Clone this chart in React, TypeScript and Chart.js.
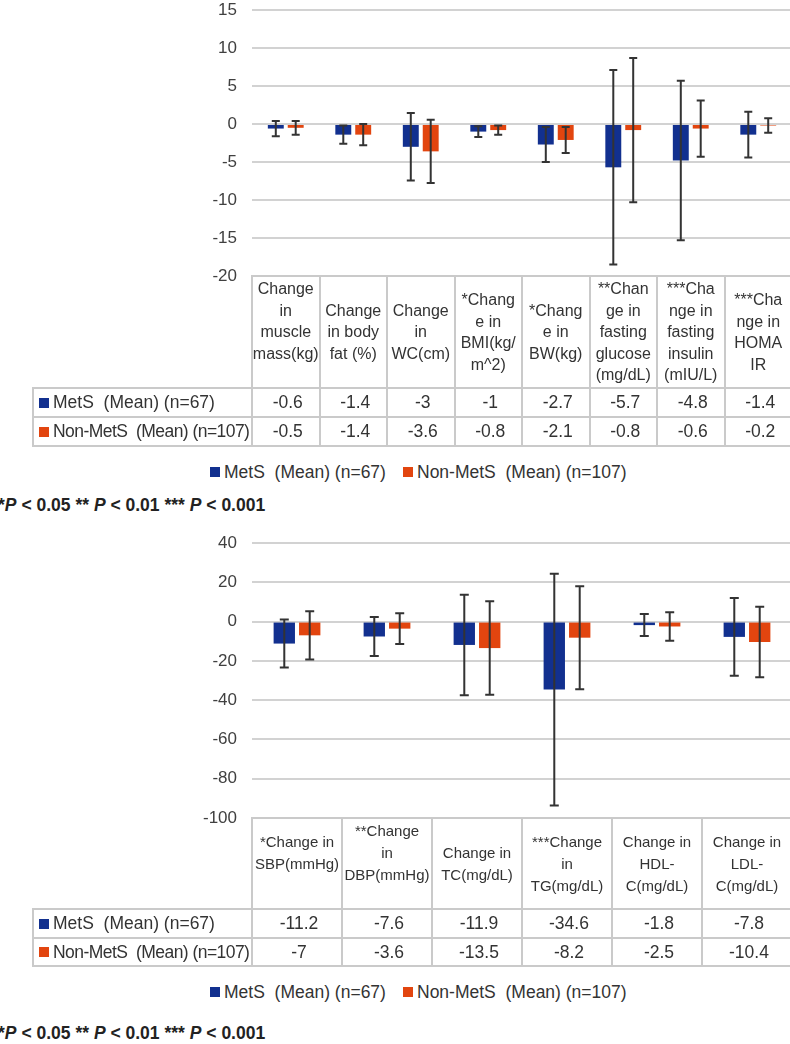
import React, { useEffect, useRef } from "react";
import { Chart, registerables } from "chart.js";

Chart.register(...registerables);

// ---------- data ----------
const SERIES_LABELS = ["MetS  (Mean) (n=67)", "Non-MetS  (Mean) (n=107)"];

const TOP_CATEGORIES = [
  "Change\nin\nmuscle\nmass(kg)\n\u00a0",
  "Change\nin body\nfat (%)",
  "Change\nin\nWC(cm)",
  "*Chang\ne in\nBMI(kg/\nm^2)",
  "*Chang\ne in\nBW(kg)",
  "**Chan\nge in\nfasting\nglucose\n(mg/dL)",
  "***Cha\nnge in\nfasting\ninsulin\n(mIU/L)",
  "***Cha\nnge in\nHOMA\nIR",
];
const TOP_METS = [-0.6, -1.4, -3, -1, -2.7, -5.7, -4.8, -1.4];
const TOP_NONMETS = [-0.5, -1.4, -3.6, -0.8, -2.1, -0.8, -0.6, -0.2];
const TOP_METS_SD = [1.0, 1.2, 4.45, 0.7, 2.3, 12.8, 10.5, 3.0];
const TOP_NONMETS_SD = [0.9, 1.4, 4.15, 0.6, 1.7, 9.5, 3.7, 0.95];
const TOP_Y = { min: -20, max: 15, step: 5 };

const BOT_CATEGORIES = [
  "*Change in\nSBP(mmHg)\n\u00a0",
  "**Change\nin\nDBP(mmHg)\n\u00a0",
  "Change in\nTC(mg/dL)",
  "***Change\nin\nTG(mg/dL)",
  "Change in\nHDL-\nC(mg/dL)",
  "Change in\nLDL-\nC(mg/dL)",
];
const BOT_METS = [-11.2, -7.6, -11.9, -34.6, -1.8, -7.8];
const BOT_NONMETS = [-7, -3.6, -13.5, -8.2, -2.5, -10.4];
const BOT_METS_SD = [12.2, 9.9, 25.6, 59, 5.6, 19.8];
const BOT_NONMETS_SD = [12.3, 7.8, 23.8, 26.2, 7.2, 18];
const BOT_Y = { min: -100, max: 40, step: 20 };

// ---------- style ----------
const FONT = '"Liberation Sans", Arial, Helvetica, sans-serif';
const BLUE = "#12308f";
const ORANGE = "#e2450f";
const GRID = "#d2d2d2";
const BORDER = "#cacaca";
const TEXT = "#333333";
const AXIS_W = 252;
const PLOT_RIGHT = 792;
const CANVAS_W = 800;
const TABLE_LEFT = 33;
const BIG = 17.5;

const errorBarPlugin = {
  id: "errorBars",
  afterDatasetsDraw(chart: any, _args: any, opts: any) {
    const ctx = chart.ctx;
    const y = chart.scales.y;
    const sds = opts.sd || [];
    const cap = opts.cap || 4;
    chart.data.datasets.forEach((ds: any, di: number) => {
      const meta = chart.getDatasetMeta(di);
      meta.data.forEach((bar: any, i: number) => {
        const v = ds.data[i];
        const sd = sds[di][i];
        const t = y.getPixelForValue(v + sd);
        const b = y.getPixelForValue(v - sd);
        ctx.save();
        ctx.strokeStyle = "#333333";
        ctx.lineWidth = 2;
        ctx.beginPath();
        ctx.moveTo(bar.x, t);
        ctx.lineTo(bar.x, b);
        ctx.moveTo(bar.x - cap, t);
        ctx.lineTo(bar.x + cap, t);
        ctx.moveTo(bar.x - cap, b);
        ctx.lineTo(bar.x + cap, b);
        ctx.stroke();
        ctx.restore();
      });
    });
  },
};

type PanelProps = {
  top: number;
  plotTop: number;
  plotBottom: number;
  cats: string[];
  mets: number[];
  non: number[];
  metsSd: number[];
  nonSd: number[];
  yr: { min: number; max: number; step: number };
  headerH: number;
  rowHs: number[];
  headerFont: number;
  headerLH: number;
  catPct: number;
  barPct: number;
  cap: number;
  legendY: number;
  noteY: number;
};

function Panel(p: PanelProps) {
  const ref = useRef<HTMLCanvasElement>(null);
  const canvasH = p.plotBottom - p.top + 16;
  useEffect(() => {
    const chart = new Chart(ref.current!, {
      type: "bar",
      data: {
        labels: p.cats.map((c) => c.replace(/\n/g, " ").trim()),
        datasets: [
          {
            label: SERIES_LABELS[0],
            data: p.mets,
            backgroundColor: BLUE,
            categoryPercentage: p.catPct,
            barPercentage: p.barPct,
          },
          {
            label: SERIES_LABELS[1],
            data: p.non,
            backgroundColor: ORANGE,
            categoryPercentage: p.catPct,
            barPercentage: p.barPct,
          },
        ],
      },
      options: {
        responsive: false,
        animation: false,
        devicePixelRatio: 1,
        layout: {
          padding: {
            top: p.plotTop - p.top,
            right: CANVAS_W - PLOT_RIGHT,
            bottom: canvasH - (p.plotBottom - p.top),
            left: 0,
          },
        },
        scales: {
          x: { display: false },
          y: {
            min: p.yr.min,
            max: p.yr.max,
            ticks: {
              stepSize: p.yr.step,
              color: "#404040",
              font: { family: FONT, size: 17 },
              padding: 15,
            },
            grid: { color: GRID, lineWidth: 2, drawTicks: false },
            border: { display: false },
            afterFit: (s: any) => {
              s.width = AXIS_W;
              s.paddingTop = 4;
              s.paddingBottom = 4;
            },
          } as any,
        },
        plugins: {
          legend: { display: false },
          tooltip: { enabled: false },
          errorBars: { sd: [p.metsSd, p.nonSd], cap: p.cap },
        } as any,
      },
      plugins: [errorBarPlugin],
    });
    return () => chart.destroy();
  }, []);

  const n = p.cats.length;
  const colW = (PLOT_RIGHT - AXIS_W) / n;
  const tTop = p.plotBottom;
  const hBot = tTop + p.headerH;
  const r1 = hBot + p.rowHs[0];
  const r2 = r1 + p.rowHs[1];
  const lines: React.ReactNode[] = [];
  const hl = (y: number, x1: number, x2: number, k: string) =>
    lines.push(
      <div key={k} style={{ position: "absolute", left: x1 - 1, top: y - 1, width: x2 - x1 + 2, height: 2, background: BORDER }} />
    );
  const vl = (x: number, y1: number, y2: number, k: string) =>
    lines.push(
      <div key={k} style={{ position: "absolute", left: x - 1, top: y1 - 1, width: 2, height: y2 - y1 + 2, background: BORDER }} />
    );
  hl(tTop, AXIS_W, PLOT_RIGHT, "h0");
  hl(hBot, TABLE_LEFT, PLOT_RIGHT, "h1");
  hl(r1, TABLE_LEFT, PLOT_RIGHT, "h2");
  hl(r2, TABLE_LEFT, PLOT_RIGHT, "h3");
  vl(TABLE_LEFT, hBot, r2, "v0");
  for (let i = 0; i <= n; i++) vl(AXIS_W + i * colW, tTop, r2, "v" + (i + 1));

  const cell = (x: number, y: number, w: number, h: number, content: React.ReactNode, k: string, extra: any = {}) => (
    <div
      key={k}
      style={{
        position: "absolute",
        left: x,
        top: y,
        width: w,
        height: h,
        display: "flex",
        alignItems: "center",
        justifyContent: "center",
        textAlign: "center",
        whiteSpace: "pre",
        color: TEXT,
        ...extra,
      }}
    >
      {content}
    </div>
  );

  const square = (c: string) => (
    <span style={{ display: "inline-block", width: 10, height: 10, background: c, marginRight: 4, flex: "none" }} />
  );

  return (
    <>
      <canvas
        ref={ref}
        width={CANVAS_W}
        height={canvasH}
        style={{ position: "absolute", left: 0, top: p.top, width: CANVAS_W, height: canvasH }}
      />
      {lines}
      {p.cats.map((c, i) =>
        cell(AXIS_W + i * colW, tTop, colW, p.headerH, c, "hc" + i, {
          fontSize: p.headerFont,
          lineHeight: p.headerLH + "px",
        })
      )}
      {cell(TABLE_LEFT, hBot, AXIS_W - TABLE_LEFT, p.rowHs[0], <>{square(BLUE)}{SERIES_LABELS[0]}</>, "l1", {
        justifyContent: "flex-start",
        paddingLeft: 6,
        boxSizing: "border-box",
        fontSize: BIG,
      })}
      {cell(TABLE_LEFT, r1, AXIS_W - TABLE_LEFT, p.rowHs[1], <>{square(ORANGE)}{SERIES_LABELS[1]}</>, "l2", {
        justifyContent: "flex-start",
        paddingLeft: 6,
        boxSizing: "border-box",
        fontSize: BIG,
        letterSpacing: "-0.55px",
      })}
      {p.mets.map((v, i) =>
        cell(AXIS_W + i * colW, hBot, colW, p.rowHs[0], String(v), "m" + i, { fontSize: BIG, paddingLeft: 4, boxSizing: "border-box" })
      )}
      {p.non.map((v, i) =>
        cell(AXIS_W + i * colW, r1, colW, p.rowHs[1], String(v), "n" + i, { fontSize: BIG, paddingLeft: 4, boxSizing: "border-box" })
      )}
      <div style={{ position: "absolute", left: 210, top: p.legendY - 11, height: 22, display: "flex", alignItems: "center", whiteSpace: "pre", fontSize: BIG, color: TEXT }}>
        {square(BLUE)}
        {SERIES_LABELS[0]}
      </div>
      <div style={{ position: "absolute", left: 403, top: p.legendY - 11, height: 22, display: "flex", alignItems: "center", whiteSpace: "pre", fontSize: BIG, color: TEXT }}>
        {square(ORANGE)}
        {SERIES_LABELS[1]}
      </div>
      <div style={{ position: "absolute", left: -2, top: p.noteY - 11, height: 22, lineHeight: "22px", whiteSpace: "pre", fontSize: BIG, fontWeight: "bold", color: "#222" }}>
        *<i>P</i> {"< 0.05 ** "}<i>P</i> {"< 0.01 *** "}<i>P</i> {"< 0.001"}
      </div>
    </>
  );
}

export default function App() {
  return (
    <div
      style={{
        position: "fixed",
        left: 0,
        top: 0,
        width: 790,
        height: 1044,
        overflow: "hidden",
        background: "#ffffff",
        fontFamily: FONT,
      }}
    >
      <Panel
        top={0}
        plotTop={10}
        plotBottom={276}
        cats={TOP_CATEGORIES}
        mets={TOP_METS}
        non={TOP_NONMETS}
        metsSd={TOP_METS_SD}
        nonSd={TOP_NONMETS_SD}
        yr={TOP_Y}
        headerH={112}
        rowHs={[29, 29]}
        headerFont={16}
        headerLH={21.5}
        catPct={0.59}
        barPct={0.8}
        cap={4}
        legendY={472}
        noteY={505}
      />
      <Panel
        top={533}
        plotTop={543}
        plotBottom={818}
        cats={BOT_CATEGORIES}
        mets={BOT_METS}
        non={BOT_NONMETS}
        metsSd={BOT_METS_SD}
        nonSd={BOT_NONMETS_SD}
        yr={BOT_Y}
        headerH={91}
        rowHs={[29, 28]}
        headerFont={15}
        headerLH={22}
        catPct={0.565}
        barPct={0.84}
        cap={4.5}
        legendY={992}
        noteY={1033}
      />
    </div>
  );
}
